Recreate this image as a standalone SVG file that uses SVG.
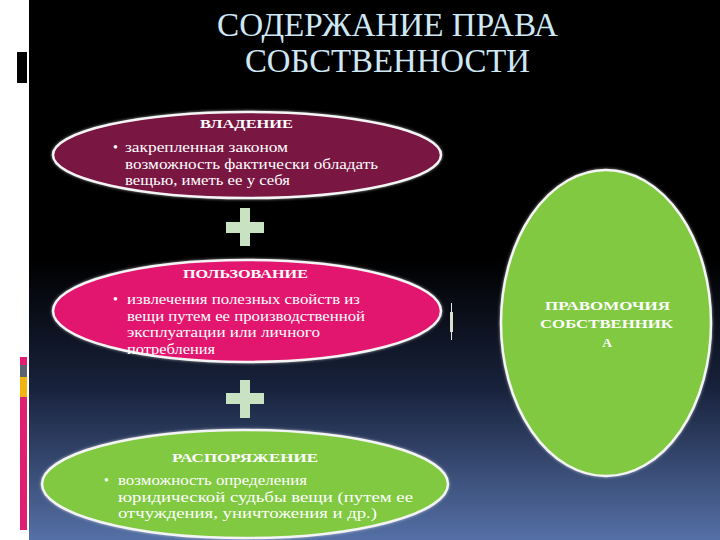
<svg xmlns="http://www.w3.org/2000/svg" width="720" height="540" viewBox="0 0 720 540">
<defs>
<linearGradient id="bg" x1="0" y1="0" x2="0" y2="1">
<stop offset="0" stop-color="#000"/>
<stop offset="0.48" stop-color="#000"/>
<stop offset="0.72" stop-color="#18223c"/>
<stop offset="1" stop-color="#5570a6"/>
</linearGradient>
<filter id="glow" x="-10%" y="-20%" width="120%" height="140%">
<feGaussianBlur in="SourceAlpha" stdDeviation="1.5" result="b"/>
<feFlood flood-color="#ffffff" flood-opacity="0.6"/>
<feComposite in2="b" operator="in" result="g"/>
<feMerge><feMergeNode in="g"/><feMergeNode in="SourceGraphic"/></feMerge>
</filter>
</defs>
<style>
.title{font-family:"Liberation Serif","DejaVu Serif",serif;font-size:33px;fill:#cfe8f6}
.hd{font-family:"Liberation Serif","DejaVu Serif",serif;font-size:13.5px;font-weight:bold;fill:#fff}
.tx{font-family:"Liberation Serif","DejaVu Serif",serif;font-size:14px;fill:#fff}
.ell{stroke:#f4f4f4;stroke-width:2.5}
.plus{fill:#c9e3c2}
</style>
<rect x="0" y="0" width="720" height="540" fill="url(#bg)"/>
<rect x="0" y="0" width="29" height="540" fill="#fff"/>
<rect x="17" y="52" width="10" height="31" fill="#000"/>
<rect x="20" y="357" width="7" height="8" fill="#e01e72"/>
<rect x="20" y="365" width="7" height="12" fill="#5a6470"/>
<rect x="20" y="377" width="7" height="20" fill="#f2b410"/>
<rect x="20" y="397" width="7" height="133" fill="#e01e72"/>

<g id="title">
<text class="title" x="217" y="36" textLength="341" lengthAdjust="spacingAndGlyphs">СОДЕРЖАНИЕ ПРАВА</text>
<text class="title" x="245" y="72" textLength="285" lengthAdjust="spacingAndGlyphs">СОБСТВЕННОСТИ</text>
</g>

<g id="connectors">
<g id="plus1" class="plus"><rect x="240" y="208" width="10" height="38"/><rect x="226" y="222" width="38" height="11"/></g>
<g id="plus2" class="plus"><rect x="240" y="380" width="10" height="38"/><rect x="226" y="393" width="38" height="11"/></g>
<g id="mark"><rect x="451" y="303" width="1" height="37" fill="#e8e8e8"/><rect x="450" y="312" width="3" height="20" fill="#d8e0d0"/></g>
</g>

<g id="vladenie">
<ellipse class="ell" cx="247" cy="155" rx="194" ry="43" fill="#7a1242" filter="url(#glow)"/>
<text class="hd" x="200" y="128" textLength="93" lengthAdjust="spacingAndGlyphs">ВЛАДЕНИЕ</text>
<text class="tx" x="113" y="152">•</text>
<text class="tx" x="125" y="152" textLength="163" lengthAdjust="spacingAndGlyphs">закрепленная законом</text>
<text class="tx" x="125" y="169" textLength="253" lengthAdjust="spacingAndGlyphs">возможность фактически обладать</text>
<text class="tx" x="125" y="185" textLength="165" lengthAdjust="spacingAndGlyphs">вещью, иметь ее у себя</text>
</g>

<g id="polzovanie">
<ellipse class="ell" cx="247" cy="311" rx="194" ry="51" fill="#e2186e" filter="url(#glow)"/>
<text class="hd" x="183" y="278" textLength="125" lengthAdjust="spacingAndGlyphs">ПОЛЬЗОВАНИЕ</text>
<text class="tx" x="113" y="304">•</text>
<text class="tx" x="127" y="304" textLength="233" lengthAdjust="spacingAndGlyphs">извлечения полезных свойств из</text>
<text class="tx" x="127" y="321" textLength="238" lengthAdjust="spacingAndGlyphs">вещи путем ее производственной</text>
<text class="tx" x="127" y="337" textLength="193" lengthAdjust="spacingAndGlyphs">эксплуатации или личного</text>
<text class="tx" x="127" y="354" textLength="88" lengthAdjust="spacingAndGlyphs">потребления</text>
</g>

<g id="rasporyazhenie">
<ellipse class="ell" cx="245" cy="484" rx="203" ry="54" fill="#80c940" filter="url(#glow)"/>
<text class="hd" x="172" y="462" textLength="146" lengthAdjust="spacingAndGlyphs">РАСПОРЯЖЕНИЕ</text>
<text class="tx" x="104" y="485">•</text>
<text class="tx" x="118" y="485" textLength="189" lengthAdjust="spacingAndGlyphs">возможность определения</text>
<text class="tx" x="118" y="502" textLength="295" lengthAdjust="spacingAndGlyphs">юридической судьбы вещи (путем ее</text>
<text class="tx" x="118" y="518" textLength="259" lengthAdjust="spacingAndGlyphs">отчуждения, уничтожения и др.)</text>
</g>

<g id="pravomochiya">
<ellipse class="ell" cx="606" cy="323" rx="105" ry="153" fill="#80c940" filter="url(#glow)"/>
<text class="hd" x="545" y="310" textLength="125" lengthAdjust="spacingAndGlyphs">ПРАВОМОЧИЯ</text>
<text class="hd" x="540" y="328" textLength="133" lengthAdjust="spacingAndGlyphs">СОБСТВЕННИК</text>
<text class="hd" x="607" y="347" text-anchor="middle">А</text>
</g>
</svg>
